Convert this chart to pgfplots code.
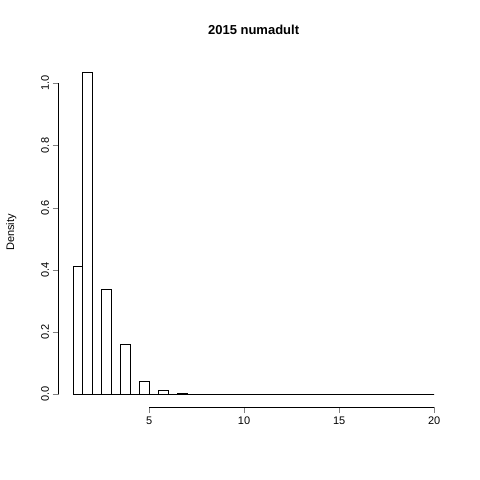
\documentclass[border=0pt]{standalone}
\usepackage{pgfplots}
\pgfplotsset{compat=1.18}
\usepackage{fontspec}
\setmainfont{Liberation Sans}
\begin{document}
\begin{tikzpicture}
\begin{axis}[scale only axis, width=390pt, height=349pt,
 xmin=0.24, xmax=20.76, ymin=-0.0416, ymax=1.0816,
 axis line style={draw=none}, tick align=outside, tick pos=lower,
 xtick={5,10,15,20}, ytick={0,0.2,0.4,0.6,0.8,1.0},
 yticklabel style={rotate=90, /pgf/number format/fixed, /pgf/number format/precision=1, /pgf/number format/fixed zerofill},
 ticklabel style={font=\fontsize{11}{13}\selectfont},
 /pgf/number format/assume math mode=true,
 major tick length=6pt,
 ylabel={Density}, ylabel style={font=\fontsize{11}{13}\selectfont, yshift=18pt},
 title={\textbf{2015 numadult}}, title style={font=\fontsize{13}{15}\selectfont, yshift=14pt},
 clip=false]
\addplot[ybar interval, fill=white, draw=black] coordinates {
(1,0.41)(1.5,1.036)(2,0)(2.5,0.338)(3,0)(3.5,0.16)(4,0)(4.5,0.043)(5,0)(5.5,0.013)(6,0)(6.5,0.004)(7,0.001)(7.5,0)(8,0)(8.5,0.0005)(9,0)(9.5,0)(10,0)(10.5,0)(11,0)(11.5,0)(12,0)(12.5,0)(13,0)(13.5,0)(14,0)(14.5,0)(15,0)(15.5,0)(16,0)(16.5,0)(17,0)(17.5,0)(18,0)(18.5,0)(19,0)(19.5,0)(20,0)};
\draw (axis cs:5,-0.0416) -- (axis cs:20,-0.0416);
\draw (axis cs:0.24,0) -- (axis cs:0.24,1);
\end{axis}
\pgfresetboundingbox
\path (current axis.south west) ++(-58.6pt,-73pt) rectangle ++(480pt,480pt);
\end{tikzpicture}
\end{document}
